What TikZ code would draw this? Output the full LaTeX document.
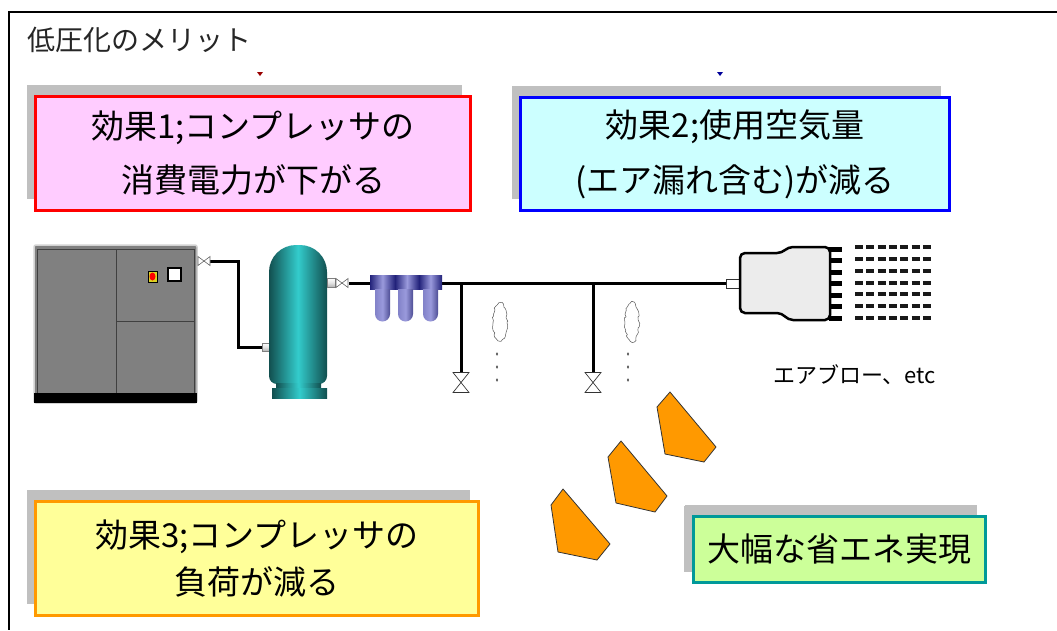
\documentclass[tikz,border=0pt]{standalone}
\usepackage{fontspec}
\setmainfont{Noto Sans CJK JP}
\usetikzlibrary{shadows,decorations.pathmorphing}

\definecolor{shadowgray}{HTML}{C0C0C0}
\definecolor{pinkfill}{HTML}{FFCCFF}
\definecolor{cyanfill}{HTML}{CCFFFF}
\definecolor{yellowfill}{HTML}{FFFF99}
\definecolor{greenfill}{HTML}{CCFF99}
\definecolor{orangeline}{HTML}{FF9900}
\definecolor{tealline}{HTML}{009999}
\definecolor{compgray}{HTML}{808080}
\definecolor{tankdark}{HTML}{124F4F}
\definecolor{tanklight}{HTML}{33CCCC}
\definecolor{filterdark}{HTML}{22227A}
\definecolor{filterlight}{HTML}{9A9ADC}
\definecolor{blowfill}{HTML}{ECECEC}

\tikzset{
  effbox/.style={draw, line width=3pt, align=center, inner sep=0pt,
    general shadow={fill=shadowgray, shadow xshift=-9pt, shadow yshift=12pt}},
  pipe/.style={line width=3pt, black},
  stub/.style={draw=gray, line width=0.6pt, top color=white, bottom color=gray!60, middle color=gray!20},
  pics/hvalve/.style={code={
    \draw[fill=white, draw=gray!80!black, line width=0.6pt]
      (-6,-4.5) -- (6,4.5) -- (6,-4.5) -- (-6,4.5) -- cycle;}},
  pics/vvalve/.style={code={
    \draw[fill=white, draw=black!80, line width=0.7pt]
      (-8,-10) -- (8,10) -- (-8,10) -- (8,-10) -- cycle;}},
  leak/.style={draw=gray!70!black, fill=white, line width=0.5pt, decorate,
    decoration={random steps, segment length=2pt, amplitude=0.9pt}},
  chevron/.style={fill=orangeline, draw=black!80, line width=0.8pt, line join=round},
  airjet/.style={line width=3.2pt, black!90, dash pattern=on 8pt off 3.3pt}
}

\begin{document}
\begin{tikzpicture}[x=1pt, y=-1pt]
\useasboundingbox (0,0) rectangle (1057,630);

% page frame
\draw[line width=2pt] (1057,12) -- (9,12) -- (9,630);

% heading
\node[anchor=west, inner sep=0pt, font=\fontsize{28}{28}\selectfont, text=black!85] (title) at (27,40) {低圧化のメリット};

% tiny markers above the upper boxes
\fill[red!60!black] (257,72) -- (263,72) -- (260,76) -- cycle;
\fill[blue!60!black] (717,72) -- (723,72) -- (720,76) -- cycle;

% effect boxes
\node[effbox, draw=red, fill=pinkfill, minimum width=435pt, minimum height=114pt,
  font=\fontsize{33}{54}\selectfont] (eff1) at (253,153.5) {効果1;コンプレッサの\\消費電力が下がる};
\node[effbox, draw=blue, fill=cyanfill, minimum width=429pt, minimum height=113pt,
  font=\fontsize{33}{55}\selectfont] (eff2) at (735,154) {効果2;使用空気量\\(エア漏れ含む)が減る};
\node[effbox, draw=orangeline, fill=yellowfill, minimum width=443pt, minimum height=114pt,
  font=\fontsize{33}{47}\selectfont] (eff3) at (257,558.5) {効果3;コンプレッサの\\負荷が減る};
\node[effbox, draw=tealline, fill=greenfill, minimum width=292pt, minimum height=66pt,
  font=\fontsize{33}{33}\selectfont,
  general shadow={fill=shadowgray, shadow xshift=-10pt, shadow yshift=11pt}] (result) at (839.5,549.5) {大幅な省エネ実現};

% pipe junction points
\coordinate (compout) at (210,261);
\coordinate (bend1) at (238,261);
\coordinate (bend2) at (238,347);
\coordinate (tankin) at (263,347);
\coordinate (valveout) at (349,283);
\coordinate (tap1) at (461,283);
\coordinate (tap2) at (593,283);
\coordinate (drain1) at (461,372);
\coordinate (drain2) at (593,372);
\coordinate (blowin) at (726,283);

% piping
\draw[pipe] (compout) -- (bend1) -- (bend2) -- (tankin);
\draw[pipe] (valveout) -- (blowin);
\draw[pipe] (tap1) -- (drain1);
\draw[pipe] (tap2) -- (drain2);

% compressor package
\draw[line width=1.5pt, draw=gray!35, fill=compgray, rounded corners=2pt] (34,245) rectangle (197,403);
\draw[line width=0.8pt, draw=black!75] (37,249) rectangle (194,393);
\fill[black] (34,393) rectangle (197,403);
\draw[line width=1pt, black!75] (116,249) -- (116,393);
\draw[line width=1pt, black!75] (116,321) -- (194,321);
\draw[fill=yellow!85!black, draw=black, line width=0.5pt] (148,271) rectangle (157,282);
\fill[red] (152.5,276.5) ellipse (3 and 4);
\draw[line width=2pt, fill=white] (168,268) rectangle (181,281);
\pic at (204,261) {hvalve};

% receiver tank
\path[stub] (262,343) rectangle (270,351);
\shade[left color=tankdark, right color=tankdark, middle color=tanklight]
  (269,372) [rounded corners=27pt] -- (269,245) -- (327,245) [sharp corners] -- (327,372)
  [rounded corners=8pt] -- (327,384) -- (269,384) [sharp corners] -- cycle;
\shade[left color=tankdark, right color=tankdark, middle color=tanklight] (276,383) rectangle (321,389);
\shade[left color=tankdark, right color=tankdark, middle color=tanklight] (272,388) rectangle (327,398);
\path[stub] (327,278) rectangle (335,287);
\pic at (342,283) {hvalve};

% filter unit
\foreach \hx/\hw in {370/25, 395/24, 419/23} {
  \shade[left color=filterdark, right color=filterdark, middle color=filterlight]
    (\hx,275) rectangle ++(\hw,14);
}
\foreach \bx in {375, 398, 423} {
  \shade[left color=filterlight!80!filterdark, right color=filterdark!80, middle color=filterlight]
    (\bx,289) -- (\bx,314) arc[start angle=180, end angle=360, radius=7.5pt] -- (\bx+15,289) -- cycle;
}

% drain valves
\pic at (461,382.5) {vvalve};
\pic at (593,382.5) {vvalve};

% air leaks
\path[leak] (500,322) ellipse (7 and 19);
\path[leak] (632,322) ellipse (7 and 20);
\foreach \dy in {354, 367, 380} {
  \fill[gray!70!black] (497,\dy) ellipse (1.1 and 1.8);
  \fill[gray!70!black] (628,\dy) ellipse (1.1 and 1.8);
}

% air blow nozzle
\draw[fill=white, draw=black!80, line width=1pt] (blowin) ++(0,-4) rectangle ++(16,9);
\draw[line width=2.5pt, fill=blowfill, rounded corners=5pt]
  (740,253) -- (772,253) .. controls (784,253) and (786,247) .. (798,247) -- (830,247)
  -- (830,320) -- (798,320) .. controls (786,320) and (784,313) .. (772,313) -- (740,313) -- cycle;
\foreach \ty in {249, 260.5, 272, 283.5, 295, 306.5, 318} {
  \fill[black] (829,\ty-2.5) rectangle (842,\ty+2.5);
}
\foreach \ry in {247, 259, 271, 283, 294, 306, 318} {
  \draw[airjet] (855,\ry) -- (934,\ry);
}
\node[anchor=west, inner sep=0pt, font=\fontsize{22}{22}\selectfont] (blowlabel) at (773,375) {エアブロー、etc};

% savings arrows
\draw[chevron] (670,392) -- (716,447) -- (704,462) -- (665,454) -- (657,407) -- cycle;
\draw[chevron] (621,441) -- (667,496) -- (655,512) -- (616,503) -- (608,457) -- cycle;
\draw[chevron] (563,489) -- (610,544) -- (597,560) -- (558,552) -- (551,505) -- cycle;

\end{tikzpicture}
\end{document}
